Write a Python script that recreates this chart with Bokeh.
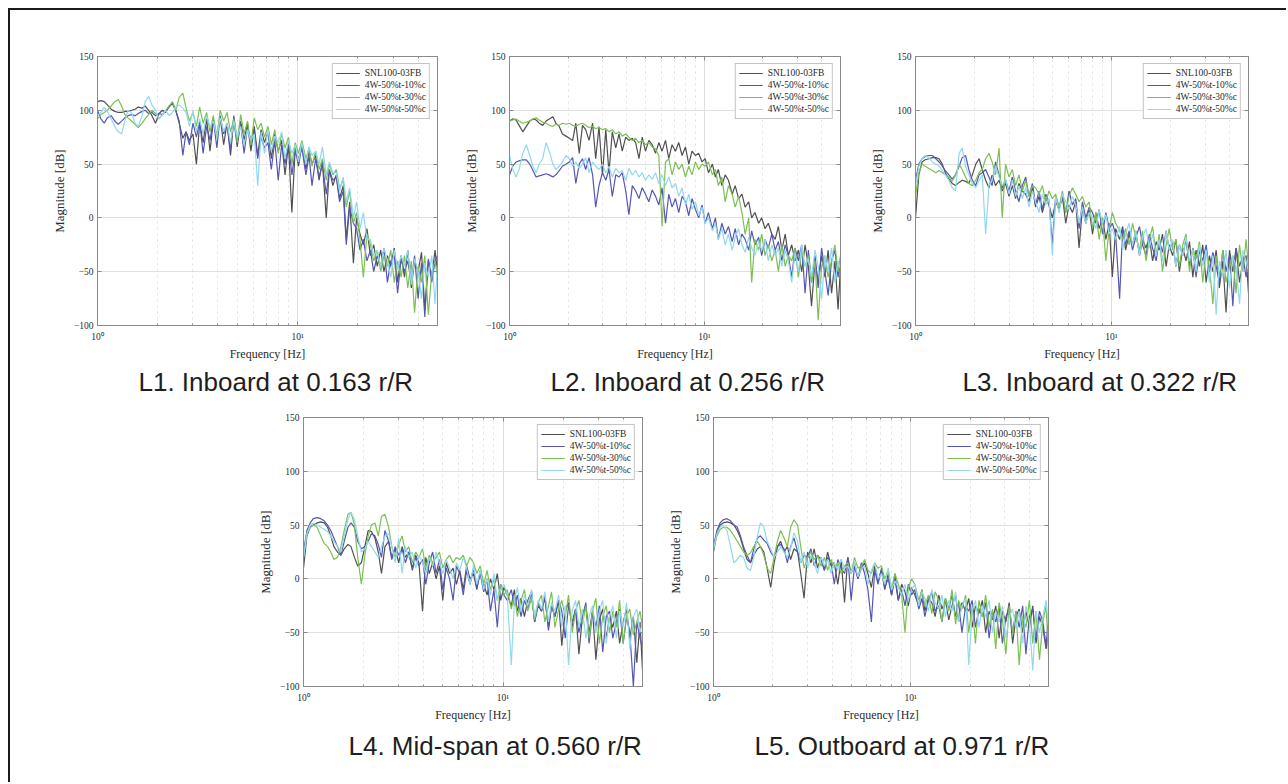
from bokeh.plotting import figure
from bokeh.layouts import row, column
from bokeh.models import FixedTicker, Legend, LegendItem, Title, Spacer, LinearAxis, LogAxis
from bokeh.embed import file_html
from bokeh.resources import INLINE

# ---------------- data ----------------
freq = [1.00, 1.04, 1.08, 1.12, 1.17, 1.22, 1.27, 1.32, 1.37, 1.42,
        1.48, 1.54, 1.60, 1.67, 1.73, 1.80, 1.87, 1.95, 2.03, 2.11,
        2.19, 2.28, 2.37, 2.46, 2.56, 2.67, 2.77, 2.88, 3.00, 3.12,
        3.24, 3.37, 3.51, 3.65, 3.79, 3.95, 4.10, 4.27, 4.44, 4.62,
        4.80, 4.99, 5.19, 5.40, 5.62, 5.84, 6.07, 6.32, 6.57, 6.83,
        7.11, 7.39, 7.69, 8.00, 8.32, 8.65, 9.00, 9.36, 9.73, 10.1,
        10.5, 11.0, 11.4, 11.8, 12.3, 12.8, 13.3, 13.9, 14.4, 15.0,
        15.6, 16.2, 16.9, 17.5, 18.2, 19.0, 19.7, 20.5, 21.3, 22.2,
        23.1, 24.0, 25.0, 26.0, 27.0, 28.1, 29.2, 30.4, 31.6, 32.9,
        34.2, 35.5, 37.0, 38.4, 40.0, 41.6, 43.2, 45.0, 46.8, 48.6, 50.0]

series_names = ["SNL100-03FB", "4W-50%t-10%c", "4W-50%t-30%c", "4W-50%t-50%c"]
series_colors = ["#505050", "#5656b4", "#7cc052", "#92d8ee"]

captions = ["L1. Inboard at 0.163 r/R", "L2. Inboard at 0.256 r/R",
            "L3. Inboard at 0.322 r/R", "L4. Mid-span at 0.560 r/R",
            "L5. Outboard at 0.971 r/R"]

# L1
l1_snl = [108, 109, 108, 105, 101, 99, 98, 98, 99, 99,
          100, 101, 103, 102, 104, 100, 95, 88, 97, 100,
          98, 104, 106, 100, 88, 74, 80, 72, 78, 50,
          88, 70, 92, 62, 90, 75, 94, 68, 88, 58,
          92, 66, 90, 72, 88, 62, 85, 58, 82, 70,
          80, 55, 78, 62, 72, 40, 68, 5, 65, 48,
          68, 45, 62, 50, 58, 35, 52, 0, 45, 30,
          40, 18, 30, -20, 15, -42, 0, -15, -25, -10,
          -35, -25, -45, -30, -50, -35, -45, -28, -60, -35,
          -55, -30, -65, -40, -50, -32, -85, -40, -55, -30, -50]
l1_10 = [100, 92, 88, 93, 95, 90, 87, 90, 93, 95,
         96, 95, 97, 99, 100, 97, 98, 95, 97, 96,
         99, 103, 107, 100, 90, 58, 80, 68, 88, 75,
         90, 60, 85, 72, 92, 65, 95, 78, 88, 62,
         95, 70, 88, 60, 84, 72, 80, 55, 75, 65,
         70, 45, 72, 35, 68, 50, 70, 40, 62, 55,
         65, 40, 58, 30, 55, 38, 50, 22, 44, 35,
         38, 15, 25, -25, 10, -5, -10, -30, -20, -40,
         -30, -50, -35, -45, -28, -60, -40, -35, -70, -38,
         -50, -40, -60, -35, -75, -42, -92, -38, -60, -40, -35]
l1_30 = [92, 96, 98, 100, 104, 108, 110, 104, 96, 93,
         90, 87, 84, 88, 92, 96, 100, 97, 92, 96,
         100, 104, 108, 100, 112, 116, 102, 90, 98, 85,
         103, 88, 98, 80, 95, 75, 100, 90, 98, 80,
         92, 70, 96, 78, 90, 68, 93, 82, 88, 75,
         85, 68, 82, 60, 78, 65, 75, 50, 70, 60,
         72, 55, 65, 48, 62, 45, 55, 35, 50, 40,
         45, 28, 35, 10, 25, -5, 5, -20, -55, -15,
         -25, -40, -30, -50, -35, -45, -30, -60, -40, -55,
         -35, -65, -40, -88, -45, -60, -35, -90, -50, -40, -55]
l1_50 = [95, 98, 103, 99, 92, 85, 80, 78, 90, 100,
         98, 88, 85, 95, 108, 113, 105, 100, 92, 96,
         100, 95, 98, 103, 105, 102, 98, 85, 100, 80,
         92, 78, 95, 85, 90, 75, 93, 80, 88, 70,
         90, 75, 85, 68, 82, 72, 78, 30, 80, 60,
         82, 62, 76, 70, 80, 55, 72, 60, 68, 52,
         70, 50, 66, 58, 62, 50, 66, 40, 52, 42,
         42, 25, 38, 15, 28, 0, 15, -10, 5, -20,
         -20, -35, -30, -45, -28, -40, -55, -30, -48, -35,
         -45, -30, -62, -38, -50, -75, -42, -55, -35, -80, -45]

# L2
l2_snl = [90, 92, 91, 86, 80, 85, 90, 92, 91, 88,
          86, 90, 92, 94, 88, 85, 78, 76, 74, 72,
          88, 60, 86, 82, 72, 88, 55, 85, 40, 82,
          42, 80, 65, 78, 62, 75, 72, 74, 70, 55,
          75, 62, 72, 68, 60, 70, 62, 72, 55, 68,
          62, 70, 58, 66, 50, 62, 58, 60, 52, 55,
          42, 50, 38, 45, 30, 40, 35, 22, 30, 18,
          22, 10, 15, 0, 5, -5, 0, -10, -5, -15,
          -20, -8, -30, -15, -35, -25, -40, -30, -50, -25,
          -45, -82, -40, -60, -35, -55, -30, -70, -40, -85, -45]
l2_10 = [40, 48, 52, 53, 54, 54, 50, 44, 38, 39,
         40, 41, 40, 38, 40, 44, 48, 50, 52, 56,
         32, 50, 55, 45, 56, 40, 10, 30, 42, 35,
         45, 20, 40, 38, 42, 25, 3, 30, 25, 18,
         28, 22, 15, 26, 20, 12, 28, -5, 22, 10,
         18, 5, 20, 15, 2, 18, 8, 0, 12, -5,
         5, -10, 0, -20, -5, -15, -8, -22, -10, -25,
         -15, -20, -30, -12, -25, -18, -35, -20, -28, -15,
         -30, -22, -40, -25, -35, -55, -28, -40, -25, -70,
         -30, -60, -35, -65, -28, -50, -72, -40, -30, -55, -40]
l2_30 = [90, 91, 92, 90, 88, 89, 90, 92, 93, 91,
         89, 88, 86, 85, 87, 86, 88, 87, 88, 86,
         85, 87, 88, 86, 84, 85, 83, 84, 82, 83,
         80, 82, 78, 80, 76, 78, 75, 72, 74, 70,
         72, 68, 70, 66, 64, 58, -8, 52, 55, 40,
         52, 45, 50, 38, 48, 40, 52, 45, 50, 48,
         52, 40, 45, 30, 38, 15, 30, 22, 10, 20,
         5, -15, 0, -60, -20, -30, -15, -35, -25, -40,
         -30, -50, -25, -45, -35, -40, -28, -55, -30, -45,
         -35, -60, -40, -95, -45, -35, -55, -40, -25, -50, -35]
l2_50 = [58, 45, 38, 45, 60, 68, 58, 48, 42, 50,
         55, 70, 62, 50, 45, 48, 52, 58, 55, 48,
         52, 46, 50, 56, 42, 52, 48, 45, 50, 42,
         48, 38, 46, 42, 44, 35, 46, 40, 44, 38,
         42, 35, 40, 36, 42, 32, 40, 30, 38, 28,
         32, 20, 28, 12, 22, 8, 15, 2, 10, -5,
         0, -12, -5, -20, -10, -25, -15, -30, -18, -10,
         -25, -32, -18, -28, -35, -22, -30, -20, -40, -25,
         -35, -28, -45, -30, -40, -60, -32, -50, -25, -45,
         -38, -55, -30, -45, -75, -35, -50, -28, -60, -40, -48]

# L3
l3_snl = [0, 40, 52, 54, 55, 56, 56, 55, 50, 42,
          36, 32, 30, 33, 35, 34, 32, 40, 50, 55,
          45, 35, 28, 40, 30, 35, 25, 32, 20, 30,
          18, 32, 25, 22, 15, 28, 10, 20, 5, 18,
          12, 0, 15, 8, 20, -5, 12, 5, 15, -28,
          10, -5, 8, -15, 5, -10, 0, -20, -5, -55,
          -10, -20, -8, -30, -15, -25, -12, -35, -20, -28,
          -18, -40, -22, -30, -15, -45, -25, -35, -20, -50,
          -28, -40, -22, -55, -30, -45, -25, -60, -35, -50,
          -30, -65, -40, -88, -30, -50, -28, -60, -40, -35, -70]
l3_10 = [35, 50, 55, 57, 58, 58, 55, 52, 48, 44,
         40, 36, 40, 48, 56, 58, 45, 35, 30, 40,
         42, 45, 38, 30, 52, 40, 28, 35, 25, 38,
         25, 15, 30, 38, 20, 32, 12, 25, 8, 22,
         15, -25, 20, 10, 18, 5, 25, 12, 18, -10,
         15, 0, 10, 5, -5, 8, -15, 5, -10, -5,
         -15, -75, -10, -25, -12, -30, -18, -8, -25, -35,
         -15, -28, -40, -20, -32, -12, -30, -22, -45, -25,
         -35, -20, -45, -28, -55, -30, -40, -25, -50, -32,
         -45, -60, -30, -50, -35, -82, -28, -45, -35, -55, -40]
l3_30 = [20, 42, 50, 48, 46, 44, 42, 44, 42, 40,
         38, 34, 40, 50, 45, 38, 32, 30, 35, 42,
         45, 55, 60, 52, 40, 65, 0, 50, 38, 45,
         30, 40, 25, 35, 20, 30, 28, 22, 30, 15,
         25, 18, 22, 10, 25, 5, 20, 28, 22, 15,
         20, 10, 15, -10, 5, -20, 0, -40, -10, 5,
         -5, -12, -20, -10, -25, -5, -18, -30, -12, -40,
         -20, -8, -35, -15, -50, -25, -10, -30, -20, -45,
         -25, -15, -50, -28, -38, -22, -60, -30, -45, -80,
         -35, -55, -30, -60, -45, -35, -70, -25, -50, -20, -45]
l3_50 = [30, 48, 55, 58, 56, 52, 50, 48, 44, 40,
         35, 28, 25, 60, 65, 48, 40, 32, 28, 35,
         40, -15, 30, 35, 48, 38, 30, 36, 22, 35,
         20, 30, 18, 28, 10, 25, 15, 5, 22, 12,
         18, -35, 20, 5, 22, 15, 8, 20, 12, -5,
         10, -5, 5, 0, -10, 8, -5, 3, -15, -10,
         -20, -8, -30, -15, -5, -25, -12, -35, -18, -10,
         -28, -15, -35, -20, -40, -12, -30, -20, -45, -25,
         -35, -18, -40, -30, -50, -25, -45, -30, -60, -35,
         -90, -40, -55, -30, -65, -35, -45, -80, -30, -40, -50]

# L4
l4_snl = [10, 40, 48, 50, 52, 53, 52, 48, 40, 30,
          25, 22, 28, 32, 30, 20, 12, 15, 30, 45,
          44, 38, 25, 5, 30, 35, 20, 28, 15, 30,
          20, 25, 10, 22, 15, -30, 20, 5, 15, 0,
          12, -20, 15, 5, 10, -5, 8, -10, 12, 0,
          5, -10, 8, -5, -15, 0, -10, 5, -20, -8,
          -15, -25, -10, -30, -18, -35, -20, -12, -40, -25,
          -30, -18, -45, -25, -35, -20, -62, -30, -22, -45,
          -28, -70, -35, -25, -50, -30, -75, -38, -28, -55,
          -35, -45, -30, -60, -40, -28, -55, -35, -78, -40, -85]
l4_10 = [25, 45, 52, 56, 57, 56, 54, 50, 45, 38,
         30, 22, 35, 48, 52, 48, 35, 28, 30, 35,
         42, 40, 32, 20, 45, 35, 18, 30, 22, 28,
         15, 25, 8, 20, 12, 18, -5, 15, 25, 5,
         18, -10, 10, 0, -20, 12, 5, -15, 8, -5,
         10, -8, 5, -12, 0, -30, -10, -45, -5, -15,
         -20, -10, -25, -15, -35, -20, -28, -12, -40, -22,
         -30, -15, -48, -25, -35, -20, -30, -55, -25, -40,
         -28, -50, -35, -22, -60, -30, -45, -25, -68, -35,
         -30, -55, -40, -28, -60, -35, -50, -100, -40, -55, -65]
l4_30 = [20, 42, 48, 50, 48, 40, 33, 30, 25, 18,
         20, 30, 45, 60, 62, 50, 20, -5, 22, 40,
         50, 52, 40, 58, 60, 48, 30, 20, 32, 40,
         25, 30, 15, 25, 20, 28, 10, 22, 15, 20,
         25, 10, 18, 22, 15, 20, 18, 22, 12, 20,
         15, 5, 12, -5, 8, -10, 0, -20, -5, -15,
         -10, -28, -15, -35, -20, -10, -30, -18, -38, -22,
         -15, -40, -25, -12, -45, -28, -20, -35, -15, -50,
         -30, -20, -42, -25, -55, -30, -18, -60, -35, -25,
         -50, -30, -45, -20, -60, -35, -28, -52, -40, -30, -45]
l4_50 = [20, 42, 50, 52, 50, 48, 46, 44, 40, 35,
         30, 25, 40, 55, 62, 55, 40, 25, 28, 35,
         30, 25, 20, 30, 40, 42, 30, 15, 38, 5,
         30, 20, 25, 10, 22, 15, 5, 20, 12, 25,
         15, 5, 18, 10, 0, 15, 8, 20, 10, -5,
         12, -5, 8, -10, 0, -15, 5, -20, -10, -5,
         -15, -80, -20, -8, -30, -15, -25, -10, -35, -20,
         -28, -12, -40, -22, -30, -15, -45, -25, -80, -30,
         -20, -45, -28, -55, -35, -25, -50, -30, -20, -60,
         -35, -25, -55, -30, -45, -22, -65, -35, -28, -50, -40]

# L5
l5_snl = [25, 42, 50, 52, 53, 52, 50, 45, 38, 28,
          18, 15, 22, 28, 30, 25, 10, -8, 15, 30,
          35, 25, 30, 18, 28, 25, 5, -18, 25, 15,
          28, 10, 20, 8, 25, 12, 15, -5, 18, -22,
          20, 5, 15, 0, 10, 15, 5, -8, 12, -2,
          8, -10, 5, -15, 0, -20, -5, -12, -25, -8,
          -15, -25, -10, -30, -18, -22, -35, -15, -28, -20,
          -38, -25, -15, -40, -22, -30, -18, -45, -25, -32,
          -20, -50, -30, -38, -25, -55, -30, -40, -22, -60,
          -35, -28, -50, -30, -45, -25, -60, -35, -45, -65, -50]
l5_10 = [30, 45, 52, 55, 56, 54, 50, 48, 40, 30,
         22, 15, 28, 38, 40, 36, 33, 25, 20, 30,
         32, 28, 15, 30, 38, 25, 15, 22, 20, 28,
         12, 22, 18, 8, 20, 15, -5, 18, 10, 5,
         20, -20, 12, 0, 15, 5, -10, -40, 8, -5,
         10, -8, 0, -15, 5, -20, -10, -25, -5, -15,
         -10, -28, -18, -35, -20, -12, -30, -25, -40, -18,
         -28, -15, -35, -22, -50, -25, -30, -20, -45, -28,
         -35, -22, -55, -30, -40, -25, -60, -35, -28, -50,
         -30, -45, -25, -70, -35, -28, -55, -30, -40, -62, -35]
l5_30 = [28, 40, 46, 48, 48, 45, 40, 35, 30, 25,
         22, 24, 30, 35, 30, 22, 10, 5, 20, 35,
         45, 38, 30, 48, 55, 50, 30, 10, 20, 25,
         18, 22, 12, 20, 8, 18, 10, 15, 5, 12,
         15, 5, 20, 10, 12, 18, 8, 5, 15, 10,
         12, 0, 8, -10, 5, -5, -15, -50, -8, 0,
         -5, -20, -10, -25, -15, -32, -12, -20, -40, -18,
         -30, -10, -42, -20, -28, -15, -50, -25, -60, -20,
         -35, -15, -45, -28, -65, -22, -38, -70, -25, -50,
         -30, -80, -35, -45, -20, -60, -30, -75, -40, -25, -70]
l5_50 = [28, 42, 48, 50, 45, 30, 15, 18, 22, 20,
         10, 8, 20, 40, 52, 48, 35, 28, 20, 25,
         30, 25, 20, 28, 43, 35, 15, 25, 10, 22,
         15, 5, 20, 12, 18, 5, 15, 8, 18, 10,
         12, 5, 15, 2, 10, 12, -5, 8, 15, 0,
         5, -5, 10, -10, -2, -8, -15, -5, -20, -10,
         -5, -25, -12, -18, -30, -10, -22, -28, -15, -35,
         -20, -30, -12, -40, -25, -18, -80, -30, -20, -45,
         -25, -35, -20, -50, -30, -40, -25, -55, -35, -28,
         -45, -30, -60, -25, -40, -85, -30, -50, -35, -20, -45]

x_major = [1, 10]
x_minor = [2, 3, 4, 5, 6, 7, 8, 9, 20, 30, 40, 50]
y_ticks = [-100, -50, 0, 50, 100, 150]

AXIS_GRAY = "#8a8a8a"
TEXT_DARK = "#2a2a2a"


def style_ticks(ax):
    ax.axis_line_color = AXIS_GRAY
    ax.major_tick_line_color = AXIS_GRAY
    ax.minor_tick_line_color = AXIS_GRAY
    ax.major_tick_in = 4
    ax.major_tick_out = 0
    ax.minor_tick_in = 2
    ax.minor_tick_out = 0


def make_panel(values, caption, w, h, bl, br, bt, bb, cap_offset, cap_standoff):
    p = figure(width=w, height=h, x_axis_type="log", x_range=(1, 50), y_range=(-100, 150),
               output_backend="svg", toolbar_location=None,
               min_border_left=bl, min_border_right=br, min_border_top=bt, min_border_bottom=bb)
    p.background_fill_color = "white"
    p.border_fill_color = "white"
    p.outline_line_color = AXIS_GRAY
    p.outline_line_width = 1

    items = []
    for name, color, ys in zip(series_names, series_colors, values):
        r = p.line(freq, ys, line_color=color, line_width=1.2)
        items.append(LegendItem(label=name, renderers=[r]))

    # axes
    p.xaxis.ticker = FixedTicker(ticks=x_major, minor_ticks=x_minor)
    p.xaxis.major_label_overrides = {1: "10\u2070", 10: "10\u00b9"}
    p.yaxis.ticker = FixedTicker(ticks=y_ticks)
    for ax in (p.xaxis, p.yaxis):
        style_ticks(ax)
        ax.major_label_text_font = "Liberation Serif"
        ax.major_label_text_font_size = "9.5px"
        ax.major_label_text_color = TEXT_DARK
        ax.axis_label_text_font = "Liberation Serif"
        ax.axis_label_text_font_style = "normal"
        ax.axis_label_text_color = TEXT_DARK
    p.yaxis.minor_tick_line_color = None
    p.xaxis.axis_label = "Frequency [Hz]"
    p.yaxis.axis_label = "Magnitude [dB]"
    p.xaxis.axis_label_text_font_size = "12px"
    p.yaxis.axis_label_text_font_size = "13px"
    p.xaxis.major_label_standoff = 6
    p.xaxis.axis_label_standoff = 2
    p.yaxis.major_label_standoff = 4
    p.yaxis.axis_label_standoff = 4

    # mirrored tick marks (box style), labels hidden
    top_ax = LogAxis(ticker=FixedTicker(ticks=x_major, minor_ticks=x_minor))
    right_ax = LinearAxis(ticker=FixedTicker(ticks=y_ticks))
    for ax in (top_ax, right_ax):
        style_ticks(ax)
        ax.major_label_text_color = None
        ax.major_label_text_font_size = "6px"
        ax.major_label_standoff = 0
    right_ax.minor_tick_line_color = None
    p.add_layout(top_ax, "above")
    p.add_layout(right_ax, "right")

    # grids
    p.xgrid.grid_line_color = "#dedede"
    p.xgrid.minor_grid_line_color = "#e0e0e0"
    p.xgrid.minor_grid_line_dash = "dotted"
    p.ygrid.grid_line_color = "#e0e0e0"

    legend = Legend(items=items, location="top_right")
    legend.label_text_font = "Liberation Serif"
    legend.label_text_font_size = "9.5px"
    legend.label_text_color = TEXT_DARK
    legend.glyph_width = 24
    legend.glyph_height = 12
    legend.label_height = 12
    legend.label_standoff = 5
    legend.spacing = 0
    legend.padding = 3
    legend.margin = 7
    legend.border_line_color = AXIS_GRAY
    legend.border_line_width = 1
    legend.background_fill_alpha = 1.0
    p.add_layout(legend)

    p.add_layout(Title(text=caption, align="left", offset=cap_offset, standoff=cap_standoff,
                       text_font="Liberation Sans", text_font_size="26px",
                       text_font_style="normal", text_color="#1e1e1e"), "below")
    return p


p1 = make_panel([l1_snl, l1_10, l1_30, l1_50], captions[0], 450, 390, 87, 23, 46, 75, 41, 3)
p2 = make_panel([l2_snl, l2_10, l2_30, l2_50], captions[1], 406, 390, 40, 26, 46, 75, 41, 3)
p3 = make_panel([l3_snl, l3_10, l3_30, l3_50], captions[2], 414, 390, 41, 32, 46, 75, 47, 3)
p4 = make_panel([l4_snl, l4_10, l4_30, l4_50], captions[3], 456, 376, 95, 22, 17, 90, 45, 8)
p5 = make_panel([l5_snl, l5_10, l5_30, l5_50], captions[4], 416, 376, 45, 32, 17, 90, 41, 8)

row1 = row(p1, p2, p3)
row2 = row(Spacer(width=198, height=376), p4, p5)
top_bar = Spacer(width=1276, height=2, styles={"background-color": "#1a1a1a"})
left_bar = Spacer(width=2, height=774, styles={"background-color": "#1a1a1a"})
framed = row(left_bar, column(top_bar, row1, row2, Spacer(width=1276, height=6)))
root = column(Spacer(width=1286, height=8), row(Spacer(width=8, height=776), framed))

open("out.html", "w").write(file_html(root, INLINE))
